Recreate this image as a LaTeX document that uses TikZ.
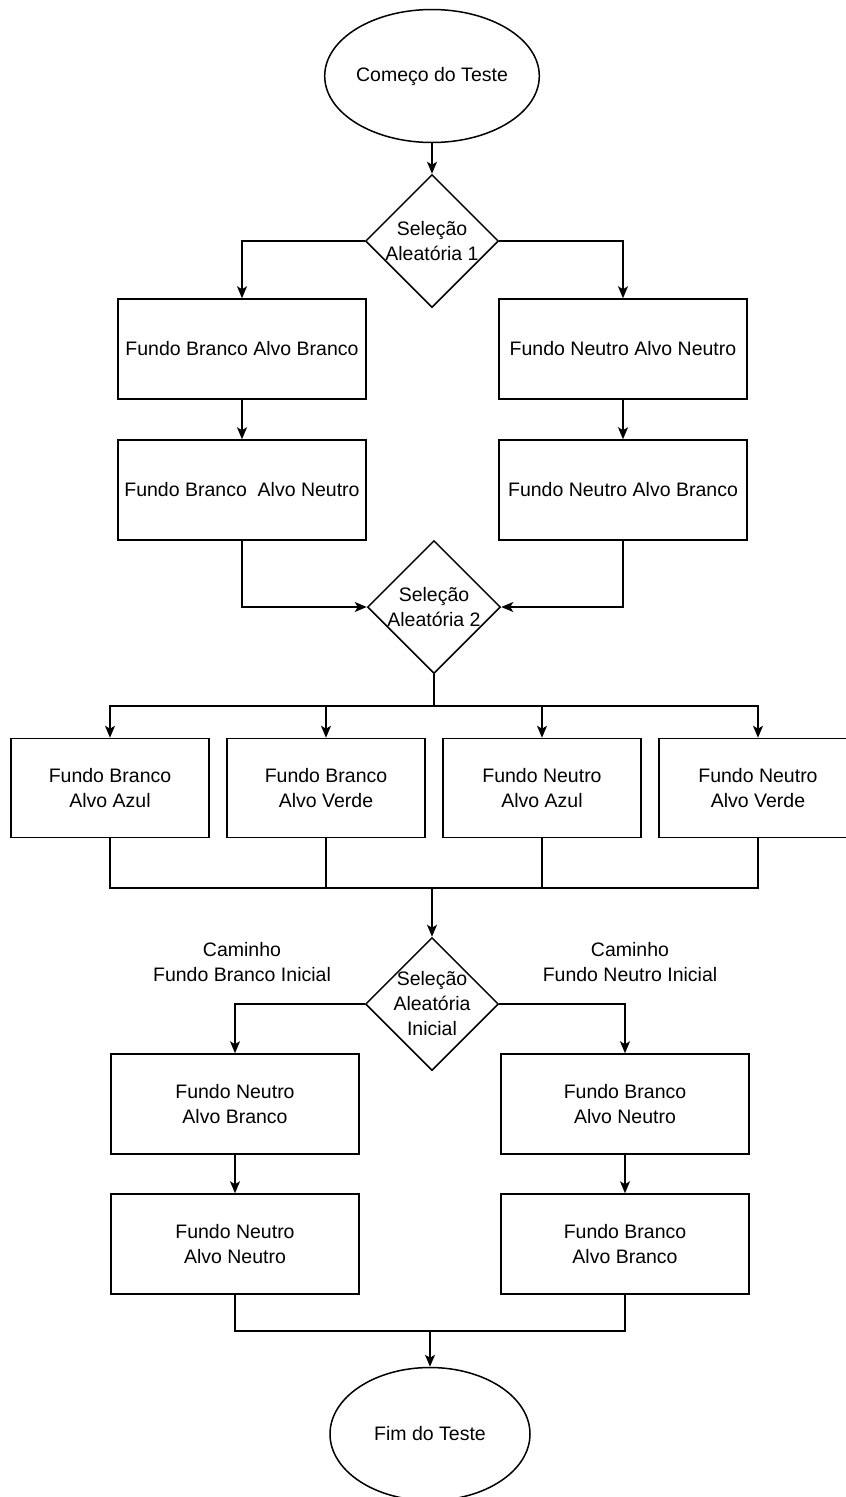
\documentclass[tikz,border=0pt]{standalone}
\usepackage{fontspec}
\setmainfont{Liberation Sans}
\usetikzlibrary{shapes.geometric,arrows.meta}
\begin{document}
\begin{tikzpicture}[x=1pt, y=-1pt, font=\fontsize{19.5}{25}\selectfont, line width=1.5pt]
\tikzstyle{box_style} = [rectangle, draw=black, minimum width=248pt, minimum height=100pt, align=center, inner sep=2pt]
\tikzstyle{small_box_style} = [box_style, minimum width=198pt, minimum height=99pt]
\tikzstyle{ellipse_style} = [ellipse, draw=black, minimum width=200pt, minimum height=133pt, inner sep=0pt]
\tikzstyle{diamond_style} = [diamond, draw=black, minimum width=133pt, minimum height=133pt, inner sep=0pt, align=center]
\tikzstyle{label_style} = [align=center, inner sep=0pt]
\tikzstyle{edge_style} = [draw=black, -{Stealth[length=12pt, width=10pt, inset=3pt]}]
\tikzstyle{line_style} = [draw=black]

\useasboundingbox (0,0) rectangle (846,1497);

\node[ellipse_style] (start) at (432,76) {Começo do Teste};
\node[diamond_style] (sel1) at (432,241) {Seleção\\Aleatória 1};

\node[box_style] (bb) at (242,349) {Fundo Branco Alvo Branco};
\node[box_style] (nn) at (623,349) {Fundo Neutro Alvo Neutro};
\node[box_style] (bn) at (242,490) {Fundo Branco\ \ Alvo Neutro};
\node[box_style] (nb) at (623,490) {Fundo Neutro Alvo Branco};

\node[diamond_style] (sel2) at (434,607) {Seleção\\Aleatória 2};

\node[small_box_style] (ba) at (110,788) {Fundo Branco\\Alvo Azul};
\node[small_box_style] (bv) at (326,788) {Fundo Branco\\Alvo Verde};
\node[small_box_style] (na) at (542,788) {Fundo Neutro\\Alvo Azul};
\node[small_box_style] (nv) at (758,788) {Fundo Neutro\\Alvo Verde};

\node[diamond_style, inner sep=-5pt] (sel3) at (432,1004) {Seleção\\Aleatória\\Inicial};
\node[label_style] (cb) at (242,962) {Caminho\\Fundo Branco Inicial};
\node[label_style] (cn) at (630,962) {Caminho\\Fundo Neutro Inicial};

\node[box_style] (nb2) at (235,1104) {Fundo Neutro\\Alvo Branco};
\node[box_style] (bn2) at (625,1104) {Fundo Branco\\Alvo Neutro};
\node[box_style] (nn2) at (235,1244) {Fundo Neutro\\Alvo Neutro};
\node[box_style] (bb2) at (625,1244) {Fundo Branco\\Alvo Branco};

\node[ellipse_style] (end) at (430,1434) {Fim do Teste};

\coordinate (split1) at (434,706);
\coordinate (join1) at (432,888);
\coordinate (join2) at (430,1331);

\draw[edge_style] (start) -- (sel1);
\draw[edge_style] (sel1.west) -| (bb.north);
\draw[edge_style] (sel1.east) -| (nn.north);
\draw[edge_style] (bb) -- (bn);
\draw[edge_style] (nn) -- (nb);
\draw[edge_style] (bn.south) |- (sel2.west);
\draw[edge_style] (nb.south) |- (sel2.east);

\draw[line_style] (sel2.south) -- (split1);
\foreach \n in {ba,bv,na,nv}
  \draw[edge_style] (split1) -| (\n.north);
\foreach \n in {ba,bv,na,nv}
  \draw[line_style] (\n.south) |- (join1);
\draw[edge_style] (join1) -- (sel3);

\draw[edge_style] (sel3.west) -| (nb2.north);
\draw[edge_style] (sel3.east) -| (bn2.north);
\draw[edge_style] (nb2) -- (nn2);
\draw[edge_style] (bn2) -- (bb2);
\draw[line_style] (nn2.south) |- (join2);
\draw[line_style] (bb2.south) |- (join2);
\draw[edge_style] (join2) -- (end);
\end{tikzpicture}
\end{document}
